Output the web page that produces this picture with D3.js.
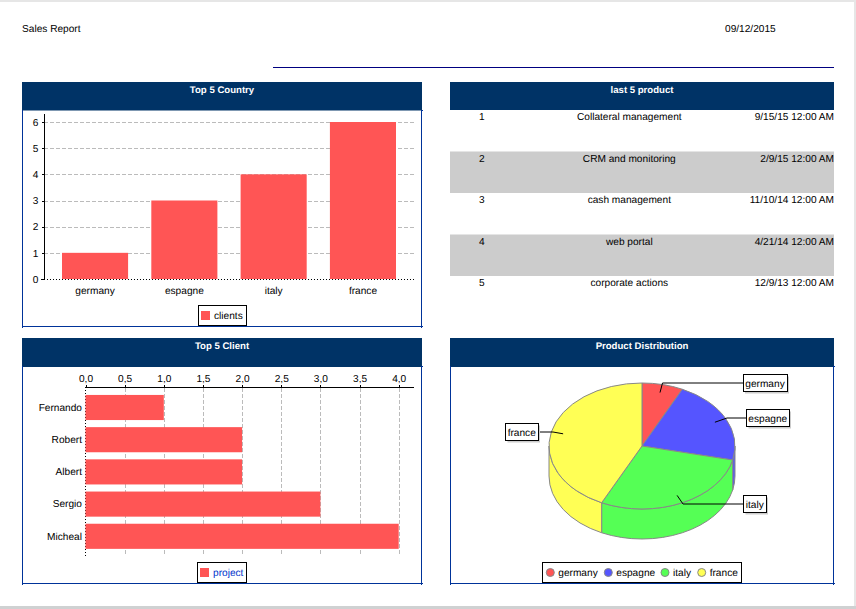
<!doctype html>
<html>
<head>
<meta charset="utf-8">
<title>Sales Report</title>
<style type="text/css">
  html, body { margin: 0; padding: 0; background: #fff; }
  svg { display: block; font: 10.15px "Liberation Sans", Arial, sans-serif; text-rendering: geometricPrecision; }
  .grid line { stroke: #bbb; stroke-dasharray: 4 2; shape-rendering: crispEdges; }
  .axis path, .axis line { stroke: #000; fill: none; shape-rendering: crispEdges; }
  .axis text { font-size: 10.15px; fill: #000; }
  .dotted path, .dotted line { stroke-dasharray: 1 2; }
  .head { fill: #fff; font-size: 9.6px; font-weight: bold; text-anchor: middle; }
</style>
</head>
<body>
<div id="report"></div>
<script src="https://d3js.org/d3.v7.min.js"></script>
<script>
const countries = ["germany", "espagne", "italy", "france"];
const clients = [1, 3, 4, 6];
const countryTicks = [0, 1, 2, 3, 4, 5, 6];

const clientNames = ["Fernando", "Robert", "Albert", "Sergio", "Micheal"];
const projects = [1, 2, 2, 3, 4];
const projectTicks = [0, 0.5, 1, 1.5, 2, 2.5, 3, 3.5, 4];

const rowNumbers = [1, 2, 3, 4, 5];
const productNames = ["Collateral management", "CRM and monitoring", "cash management", "web portal", "corporate actions"];
const productDates = ["9/15/15 12:00 AM", "2/9/15 12:00 AM", "11/10/14 12:00 AM", "4/21/14 12:00 AM", "12/9/13 12:00 AM"];

const pieColors = ["#ff5555", "#5555ff", "#55ff55", "#ffff55"];
const barColor = "#ff5555";
const navy = "#003366";
const frame = "#003399";

var svg = d3.select("#report").append("svg")
  .attr("width", 856)
  .attr("height", 609);

// screenshot edges of the viewer around the page
svg.append("rect").attr("width", 856).attr("height", 2).attr("fill", "#e6e6e6");
svg.append("rect").attr("x", 854).attr("width", 2).attr("height", 609).attr("fill", "#e6e6e6");
svg.append("rect").attr("y", 606).attr("width", 856).attr("height", 3).attr("fill", "#cfd1d2");

// report header
svg.append("text").attr("x", 22).attr("y", 32).text("Sales Report");
svg.append("text").attr("x", 725).attr("y", 32).text("09/12/2015");
svg.append("line")
  .attr("x1", 273).attr("x2", 834).attr("y1", 67.5).attr("y2", 67.5)
  .attr("stroke", "#000080");

function panelHeader(x, y, w, h, title) {
  svg.append("rect").attr("x", x).attr("y", y).attr("width", w).attr("height", h).attr("fill", navy);
  svg.append("text").attr("class", "head").attr("x", x + w / 2).attr("y", y + 11).text(title);
}

function panelFrame(x0, x1, y0, y1) {
  svg.append("path")
    .attr("d", `M${x0 - 1},${y0}H${x0}M${x0},${y0 - 1}V${y1 + 1}M${x0 - 1},${y1}H${x1 + 1}M${x1},${y1 + 1}V${y0 - 1}M${x1 + 1},${y0}H${x1}`)
    .attr("fill", "none")
    .attr("stroke", frame)
    .style("shape-rendering", "crispEdges");
}

function legendBox(x, y, w, h) {
  svg.append("rect")
    .attr("x", x).attr("y", y).attr("width", w).attr("height", h)
    .attr("fill", "#fff").attr("stroke", "#000")
    .style("shape-rendering", "crispEdges");
}

panelHeader(22, 82, 400, 28.5, "Top 5 Country");
panelHeader(450, 82, 384, 28, "last 5 product");
panelHeader(22, 338, 400, 29, "Top 5 Client");
panelHeader(450, 338, 384, 29, "Product Distribution");

panelFrame(22.5, 421.5, 110.5, 326.5);
panelFrame(22.5, 421.5, 366.5, 583.5);
panelFrame(450.5, 833.5, 366.5, 583.5);

// ---- Top 5 Country
var x1 = d3.scaleBand().domain(countries).range([50.4, 407.6]).paddingInner(0.26).paddingOuter(0.13);
var y1 = d3.scaleLinear().domain([0, 6]).range([279, 122]);

svg.append("g").attr("class", "grid")
  .selectAll("line").data(countryTicks.slice(1)).enter().append("line")
  .attr("x1", 44).attr("x2", 414)
  .attr("y1", d => y1(d) + 0.5).attr("y2", d => y1(d) + 0.5);

svg.append("g").attr("class", "axis dotted")
  .attr("transform", "translate(0,279.5)")
  .call(d3.axisBottom(x1).tickSize(0).tickPadding(7))
  .call(g => g.select(".domain").attr("d", "M41,0H414"));

svg.append("g").attr("class", "axis")
  .attr("transform", "translate(44.5,0)")
  .call(d3.axisLeft(y1).tickValues(countryTicks).tickSize(3).tickPadding(3).tickFormat(d3.format("d")))
  .call(g => g.select(".domain").attr("d", "M0,114V279"));

svg.append("g").selectAll("rect").data(clients).enter().append("rect")
  .attr("x", (d, i) => x1(countries[i]))
  .attr("y", d => y1(d))
  .attr("width", x1.bandwidth())
  .attr("height", d => y1(0) - y1(d))
  .attr("fill", barColor);

legendBox(198.5, 305.5, 48, 19.5);
svg.append("rect").attr("x", 201).attr("y", 311).attr("width", 9).attr("height", 9).attr("fill", barColor);
svg.append("text").attr("x", 214).attr("y", 319).text("clients");

// ---- last 5 product
var rowY = d3.scaleBand().domain(rowNumbers).range([110, 317.5]);

svg.append("g").selectAll("rect").data(rowNumbers.filter(d => d % 2 == 0)).enter().append("rect")
  .attr("x", 450).attr("width", 384)
  .attr("y", d => rowY(d)).attr("height", rowY.bandwidth())
  .attr("fill", "#cccccc");

var rowText = svg.append("g").selectAll("g").data(rowNumbers).enter().append("g")
  .attr("transform", d => "translate(0," + (rowY(d) + 10) + ")");
rowText.append("text").attr("x", 481.7).attr("text-anchor", "middle").text(d => d);
rowText.append("text").attr("x", 629.3).attr("text-anchor", "middle").text((d, i) => productNames[i]);
rowText.append("text").attr("x", 834).attr("text-anchor", "end").text((d, i) => productDates[i]);

// ---- Top 5 Client
var x2 = d3.scaleLinear().domain([0, 4]).range([85.5, 398.7]);
var y2 = d3.scaleBand().domain(clientNames).range([391.4, 552.4]).paddingInner(0.22).paddingOuter(0.11);

svg.append("g").attr("class", "grid")
  .selectAll("line").data(projectTicks.slice(1)).enter().append("line")
  .attr("x1", d => x2(d) + 0.5).attr("x2", d => x2(d) + 0.5)
  .attr("y1", 388).attr("y2", 556);

svg.append("g").attr("class", "axis dotted")
  .attr("transform", "translate(85.5,0)")
  .call(d3.axisLeft(y2).tickSize(0).tickPadding(3.5))
  .call(g => g.select(".domain").attr("d", "M0,387V556"));

svg.append("g").attr("class", "axis")
  .attr("transform", "translate(0,387.5)")
  .call(d3.axisTop(x2).tickValues(projectTicks).tickSize(3).tickPadding(3)
    .tickFormat(d => d3.format(".1f")(d).replace(".", ",")))
  .call(g => g.select(".domain").attr("d", "M85,0H414"));

svg.append("g").selectAll("rect").data(projects).enter().append("rect")
  .attr("x", x2(0))
  .attr("y", (d, i) => y2(clientNames[i]))
  .attr("width", d => x2(d) - x2(0))
  .attr("height", y2.bandwidth())
  .attr("fill", barColor);

legendBox(197.5, 562.5, 49, 19.5);
svg.append("rect").attr("x", 200).attr("y", 568).attr("width", 9).attr("height", 9).attr("fill", barColor);
svg.append("text").attr("x", 213).attr("y", 576).attr("fill", "#0033cc").text("project");

// ---- Product Distribution
const cx = 642, cy = 446, rx = 93, ry = 63, depth = 30;
var slices = d3.pie().sort(null)(clients);

function rim(a, dy) {
  return [cx + rx * Math.sin(a), cy - ry * Math.cos(a) + (dy || 0)];
}

// side wall, only the front half of the rim is visible
var pieG = svg.append("g");
slices.forEach(function(s, i) {
  var a0 = Math.max(s.startAngle, Math.PI / 2);
  var a1 = Math.min(s.endAngle, Math.PI * 1.5);
  if (a1 <= a0) return;
  var p0 = rim(a0), p1 = rim(a1), q0 = rim(a0, depth), q1 = rim(a1, depth);
  pieG.append("path")
    .attr("d", `M${p0}A${rx},${ry} 0 0 1 ${p1}L${q1}A${rx},${ry} 0 0 0 ${q0}Z`)
    .attr("fill", pieColors[i])
    .attr("stroke", "#888");
});

var arc = d3.arc().innerRadius(0).outerRadius(rx);
pieG.selectAll(".top").data(slices).enter().append("path")
  .attr("class", "top")
  .attr("d", arc)
  .attr("transform", `translate(${cx},${cy}) scale(1,${ry / rx})`)
  .attr("fill", (d, i) => pieColors[i])
  .attr("stroke", "#888")
  .attr("vector-effect", "non-scaling-stroke");

// callouts: box left/top/width and the elbow of the leader
const calloutBoxes = [
  {x: 743, y: 374.5, w: 44, side: "left", elbow: 662.5},
  {x: 746.5, y: 409.5, w: 42.5, side: "left", elbow: 727},
  {x: 743.5, y: 495.5, w: 22.5, side: "left", elbow: 683},
  {x: 505.5, y: 423.5, w: 32.5, side: "right", elbow: 553}
];

slices.forEach(function(s, i) {
  var b = calloutBoxes[i];
  var mid = (s.startAngle + s.endAngle) / 2;
  var ax = cx + 0.87 * rx * Math.sin(mid), ay = cy - 0.87 * ry * Math.cos(mid);
  var edge = b.side == "left" ? b.x : b.x + b.w;
  var ly = b.y + 8.5;
  svg.append("path")
    .attr("d", `M${ax},${ay}L${b.elbow},${ly}H${edge}`)
    .attr("fill", "none").attr("stroke", "#000");
  svg.append("rect")
    .attr("x", b.x + 2).attr("y", b.y + 2).attr("width", b.w).attr("height", 17)
    .attr("fill", "#ccc");
  svg.append("rect")
    .attr("x", b.x).attr("y", b.y).attr("width", b.w).attr("height", 17)
    .attr("fill", "#fff").attr("stroke", "#000")
    .style("shape-rendering", "crispEdges");
  svg.append("text")
    .attr("x", b.x + b.w / 2).attr("y", b.y + 12)
    .attr("text-anchor", "middle")
    .text(countries[i]);
});

legendBox(542.5, 562.5, 199, 20);
const legendDots = [550.3, 608.3, 665, 701.7];
countries.forEach(function(c, i) {
  svg.append("circle")
    .attr("cx", legendDots[i]).attr("cy", 572.5).attr("r", 4)
    .attr("fill", pieColors[i]).attr("stroke", "#888");
  svg.append("text").attr("x", legendDots[i] + 8).attr("y", 576).text(c);
});
</script>
</body>
</html>
